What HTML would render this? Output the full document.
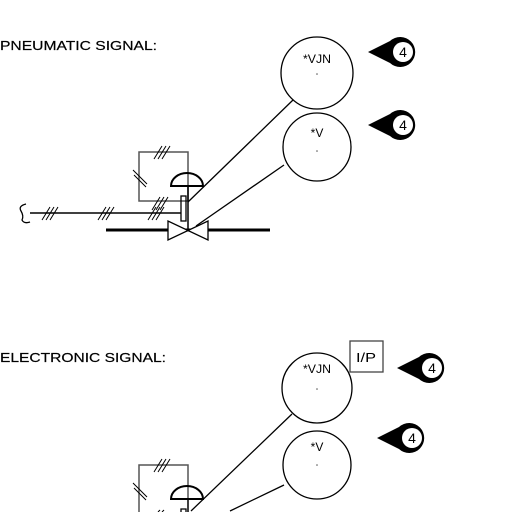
<!DOCTYPE html>
<html><head><style>html,body{margin:0;background:#fff;width:512px;height:512px;overflow:hidden}svg{display:block}</style></head><body>
<svg width="512" height="512" viewBox="0 0 512 512" xmlns="http://www.w3.org/2000/svg" font-family="Liberation Sans, sans-serif">
<defs>
<g id="tag">
  <path d="M0 0 L22 -11 A15 15 0 1 1 22 11 Z" fill="#000"/>
  <circle cx="35" cy="0" r="10" fill="#fff"/>
  <text x="35" y="5" font-size="14" text-anchor="middle" fill="#000">4</text>
</g>
</defs>

<text x="0" y="50" font-size="13" stroke="#000" stroke-width="0.2" textLength="157" lengthAdjust="spacingAndGlyphs">PNEUMATIC SIGNAL:</text>
<text x="0" y="362" font-size="13" stroke="#000" stroke-width="0.2" textLength="166" lengthAdjust="spacingAndGlyphs">ELECTRONIC SIGNAL:</text>

<g fill="none" stroke="#000">
  <rect x="139" y="152" width="49" height="49" stroke="#555" stroke-width="1.5"/>
  <path d="M171 186 A16 13 0 0 1 203 186 Z" stroke-width="2"/>
  <line x1="188" y1="186" x2="188" y2="230" stroke-width="1.5"/>
  <rect x="181" y="196" width="5" height="25" stroke-width="1.3"/>
  <line x1="30" y1="213" x2="181" y2="213" stroke-width="1.5"/>
  <path d="M26 204 Q18 206 21 211 Q24 216 22 220 Q24 224 30 222" stroke-width="1.3"/>
  <line x1="106" y1="230" x2="270" y2="230" stroke-width="3"/>
  <path d="M168 221 L168 240 L208 221 L208 240 Z" fill="#fff" stroke-width="1.3"/>
  <g stroke-width="1">
    <path d="M42 220 L50 207 M46 220 L54 207 M50 220 L58 207"/>
    <path d="M98 220 L106 207 M102 220 L110 207 M106 220 L114 207"/>
    <path d="M148 220 L156 207 M152 220 L160 207 M156 220 L164 207"/>
    <path d="M152 210 L160 197 M156 210 L164 197 M160 210 L168 197"/>
    <path d="M154 159 L162 146 M158 159 L166 146 M162 159 L170 146"/>
    <path d="M133 170 L147 184 M134 175 L146 187"/>
  </g>
</g>

<g fill="none" stroke="#000" stroke-width="1.3">
  <line x1="188" y1="202" x2="293" y2="100"/>
  <line x1="196" y1="226" x2="284" y2="165"/>
  <circle cx="317" cy="73" r="36"/>
  <circle cx="317" cy="147" r="34"/>
</g>
<text x="317" y="63" font-size="12" text-anchor="middle" textLength="28" lengthAdjust="spacingAndGlyphs">*VJN</text>
<text x="317" y="137" font-size="12" text-anchor="middle">*V</text>
<circle cx="317" cy="74" r="0.8" fill="#555"/><circle cx="317" cy="151" r="0.8" fill="#555"/>
<use href="#tag" transform="translate(368,52)"/>
<use href="#tag" transform="translate(368,125)"/>

<!-- bottom actuator (truncated) -->
<g fill="none" stroke="#000">
  <path d="M139 512 L139 465 L188 465 L188 499" stroke="#555" stroke-width="1.5"/>
  <path d="M171 499 A16 13 0 0 1 203 499 Z" stroke-width="2"/>
  <line x1="188" y1="499" x2="188" y2="512" stroke-width="1.5"/>
  <path d="M181 512 L181 509 L186 509 L186 512" stroke-width="1.3"/>
  <g stroke-width="1">
    <path d="M154 472 L162 459 M158 472 L166 459 M162 472 L170 459"/>
    <path d="M133 483 L147 497 M134 488 L146 500"/>
    <path d="M158 512 L160 510 M162 512 L164 510"/>
  </g>
</g>
<g fill="none" stroke="#000" stroke-width="1.3">
  <line x1="191" y1="511" x2="292" y2="414"/>
  <line x1="230" y1="511" x2="284" y2="485"/>
  <circle cx="317" cy="388" r="35"/>
  <circle cx="317" cy="465" r="34"/>
  <rect x="350" y="341" width="33" height="31" stroke="#444"/>
</g>
<text x="366" y="362" font-size="13" text-anchor="middle" textLength="20" lengthAdjust="spacingAndGlyphs">I/P</text>
<text x="317" y="373" font-size="12" text-anchor="middle" textLength="28" lengthAdjust="spacingAndGlyphs">*VJN</text>
<text x="317" y="451" font-size="12" text-anchor="middle">*V</text>
<circle cx="317" cy="389" r="0.8" fill="#555"/><circle cx="317" cy="465" r="0.8" fill="#555"/>
<use href="#tag" transform="translate(397,368)"/>
<use href="#tag" transform="translate(377,438)"/>
</svg>
</body></html>
